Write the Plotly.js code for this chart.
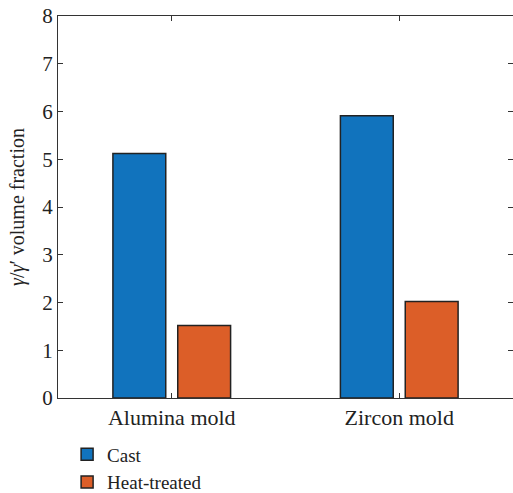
<!DOCTYPE html>
<html>
<head>
<meta charset="utf-8">
<script src="https://cdn.plot.ly/plotly-3.0.1.min.js"></script>
<style>html,body{margin:0;padding:0;background:#fff;}#chart{width:513px;height:493px;}</style>
</head>
<body>
<div id="chart"></div>
<script>
const categories = ["Alumina mold", "Zircon mold"];
const castValues = [5.12, 5.91];
const heatTreatedValues = [1.52, 2.02];
const seriesNames = ["Cast", "Heat-treated"];
const yTickValues = [0, 1, 2, 3, 4, 5, 6, 7, 8];

const fontFamily = "Liberation Serif, Times New Roman, serif";

const traces = [
  {
    type: "bar", name: seriesNames[0], x: categories, y: castValues,
    marker: {color: "#1173BD", line: {color: "#222", width: 1.5}},
    hoverinfo: "skip"
  },
  {
    type: "bar", name: seriesNames[1], x: categories, y: heatTreatedValues,
    marker: {color: "#DC5E28", line: {color: "#222", width: 1.5}},
    hoverinfo: "skip"
  }
];

const layout = {
  width: 513, height: 493,
  margin: {l: 58, r: 0, t: 16, b: 95, autoexpand: false},
  paper_bgcolor: "#fff", plot_bgcolor: "#fff",
  barmode: "group", bargap: 0.43, bargroupgap: 0.185,
  font: {family: fontFamily, size: 19, color: "#222"},
  showlegend: true,
  legend: {x: 0.02, xanchor: "left", y: -0.098, yanchor: "top", orientation: "v",
           font: {family: fontFamily, size: 19, color: "#222"}, bgcolor: "rgba(0,0,0,0)",
           tracegroupgap: 0},
  xaxis: {
    type: "category", range: [-0.5, 1.5], automargin: false,
    showline: true, linecolor: "#333", linewidth: 1, mirror: "ticks",
    ticks: "inside", ticklen: 5, tickcolor: "#333",
    showgrid: false, zeroline: false,
    tickfont: {family: fontFamily, size: 22, color: "#222"}
  },
  yaxis: {
    range: [0, 8], tickvals: yTickValues, automargin: false,
    showline: true, linecolor: "#333", linewidth: 1, mirror: "ticks",
    ticks: "inside", ticklen: 5, tickcolor: "#333",
    showgrid: false, zeroline: false,
    tickfont: {family: fontFamily, size: 21, color: "#222"},
    title: {text: "<i>γ</i>/<i>γ</i>′ volume fraction", standoff: 12,
            font: {family: fontFamily, size: 20, color: "#222"}}
  }
};

Plotly.newPlot("chart", traces, layout, {displayModeBar: false, staticPlot: true});
</script>
</body>
</html>
